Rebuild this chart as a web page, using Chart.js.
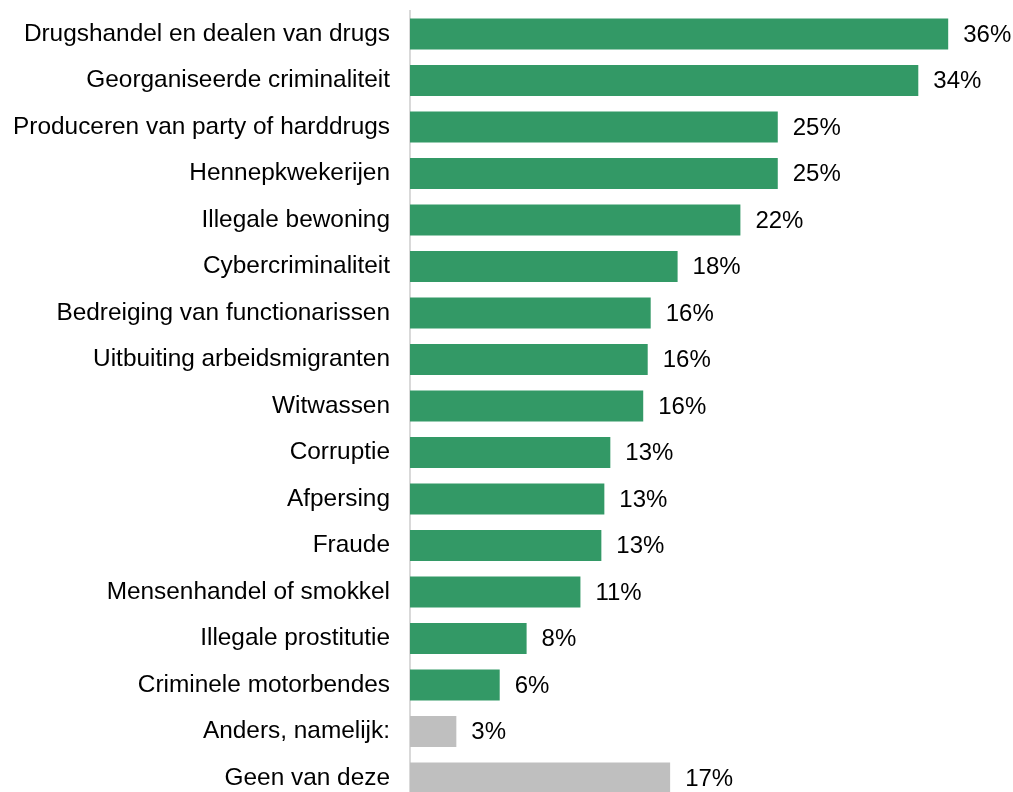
<!DOCTYPE html>
<html>
<head>
<meta charset="utf-8">
<script src="https://cdn.jsdelivr.net/npm/chart.js@4.4.0/dist/chart.umd.min.js"></script>
<style>
html,body{margin:0;padding:0;background:#fff;overflow:hidden;}
</style>
</head>
<body>
<canvas id="c" width="1013" height="802"></canvas>
<script>
const categories = [
  "Drugshandel en dealen van drugs",
  "Georganiseerde criminaliteit",
  "Produceren van party of harddrugs",
  "Hennepkwekerijen",
  "Illegale bewoning",
  "Cybercriminaliteit",
  "Bedreiging van functionarissen",
  "Uitbuiting arbeidsmigranten",
  "Witwassen",
  "Corruptie",
  "Afpersing",
  "Fraude",
  "Mensenhandel of smokkel",
  "Illegale prostitutie",
  "Criminele motorbendes",
  "Anders, namelijk:",
  "Geen van deze"
];
const values = [36.0, 34.0, 24.6, 24.6, 22.1, 17.9, 16.1, 15.9, 15.6, 13.4, 13.0, 12.8, 11.4, 7.8, 6.0, 3.1, 17.4];
const valueLabels = ["36%","34%","25%","25%","22%","18%","16%","16%","16%","13%","13%","13%","11%","8%","6%","3%","17%"];
const groups = ["main","main","main","main","main","main","main","main","main","main","main","main","main","main","main","other","other"];

const GREEN = "#339966", GREY = "#bfbfbf";
const FONT = "'Liberation Sans', Arial, sans-serif";

const labelPlugin = {
  id: "valueLabels",
  afterDatasetsDraw(chart) {
    const ctx = chart.ctx;
    const meta = chart.getDatasetMeta(0);
    ctx.save();
    ctx.font = "24px " + FONT;
    ctx.fillStyle = "#000";
    ctx.textAlign = "left";
    ctx.textBaseline = "middle";
    meta.data.forEach((bar, i) => {
      ctx.fillText(valueLabels[i], bar.x + 15, bar.y + 1);
    });
    ctx.restore();
  }
};

new Chart(document.getElementById("c"), {
  type: "bar",
  data: {
    labels: categories,
    datasets: [{
      data: values,
      backgroundColor: groups.map(g => g === "main" ? GREEN : GREY),
      borderWidth: 0,
      barPercentage: 0.67,
      categoryPercentage: 1.0
    }]
  },
  options: {
    indexAxis: "y",
    responsive: false,
    animation: false,
    layout: { padding: { top: 10.75, bottom: 0.75, left: 0, right: 5 } },
    plugins: { legend: { display: false }, tooltip: { enabled: false } },
    scales: {
      x: {
        display: false,
        min: 0,
        max: 40
      },
      y: {
        afterFit(scale) { scale.width = 410; scale.paddingTop = 0; scale.paddingBottom = 0; },
        grid: { display: false, drawTicks: false },
        border: { display: true, color: "#d9d9d9", width: 2 },
        ticks: {
          color: "#000",
          padding: 20,
          font: { family: FONT, size: 24.4 }
        }
      }
    }
  },
  plugins: [labelPlugin]
});
</script>
</body>
</html>
